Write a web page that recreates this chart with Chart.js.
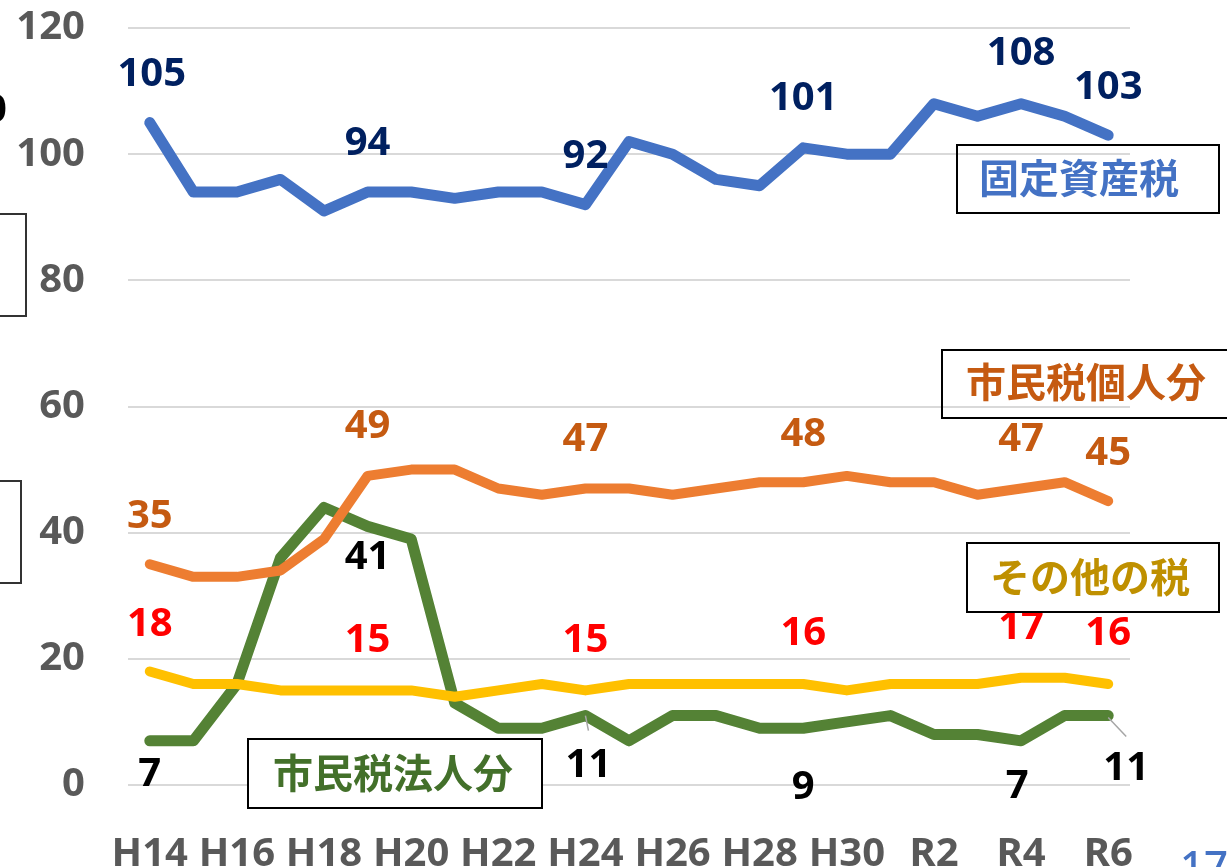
<!DOCTYPE html>
<html lang="ja">
<head>
<meta charset="utf-8">
<script src="https://cdn.jsdelivr.net/npm/chart.js@4.4.1/dist/chart.umd.min.js"></script>
<style>
  html, body { margin: 0; padding: 0; background: #fff; }
  #wrap { width: 1227px; height: 867px; position: relative; }
</style>
</head>
<body>
<div id="wrap"><canvas id="taxChart"></canvas></div>
<script>
// 年度 (H14〜R6)
const years = ['H14','H15','H16','H17','H18','H19','H20','H21','H22','H23','H24','H25',
               'H26','H27','H28','H29','H30','R1','R2','R3','R4','R5','R6'];

// 税目別の推移
const fixedAssetTax = [105, 94, 94, 96, 91, 94, 94, 93, 94, 94, 92, 102,
                       100, 96, 95, 101, 100, 100, 108, 106, 108, 106, 103];
const residentIndividual = [35, 33, 33, 34, 39, 49, 50, 50, 47, 46, 47, 47,
                            46, 47, 48, 48, 49, 48, 48, 46, 47, 48, 45];
const otherTaxes = [18, 16, 16, 15, 15, 15, 15, 14, 15, 16, 15, 16,
                    16, 16, 16, 16, 15, 16, 16, 16, 17, 17, 16];
const residentCorporate = [7, 7, 16, 36, 44, 41, 39, 13, 9, 9, 11, 7,
                           11, 11, 9, 9, 10, 11, 8, 8, 7, 11, 11];

const yTicks = [0, 20, 40, 60, 80, 100, 120];

// データラベルを付ける点
const labelIndexes = [0, 5, 10, 15, 20, 22];

const FONT = '"Noto Sans", "DejaVu Sans", sans-serif';
const JP_FONT = '"Noto Sans CJK JP", "Noto Sans", sans-serif';

// 点ごとのラベル位置 (点からのずれ)
const labelStyles = {
    fixed:  { color: '#002060', offsets: [[2,-48],[0,-48],[0,-48],[0,-49],[0,-50],[0,-48]] },
    indiv:  { color: '#C55A11', offsets: [[0,-48],[0,-49],[0,-49],[0,-48],[0,-49],[0,-48]] },
    other:  { color: '#FF0000', offsets: [[0,-47],[0,-50],[0,-50],[0,-50],[0,-50],[0,-50]] },
    corp:   { color: '#000000', offsets: [[0,34],[0,31],[3,50],[0,59],[-4,46],[18,53]],
              leaders: { 10: [0, 0, 3, 15], 22: [0, 2, 18, 21] } }
};

const dataLabelPlugin = {
    id: 'dataLabels',
    afterDatasetsDraw(chart) {
        const ctx = chart.ctx;
        chart.data.datasets.forEach((ds, i) => {
            const style = labelStyles[ds.key];
            const meta = chart.getDatasetMeta(i);
            ctx.save();
            // 引き出し線
            if (style.leaders) {
                ctx.strokeStyle = '#a6a6a6';
                ctx.lineWidth = 1.5;
                Object.keys(style.leaders).forEach(idx => {
                    const p = meta.data[idx];
                    const l = style.leaders[idx];
                    ctx.beginPath();
                    ctx.moveTo(p.x + l[0], p.y + l[1]);
                    ctx.lineTo(p.x + l[2], p.y + l[3]);
                    ctx.stroke();
                });
            }
            ctx.fillStyle = style.color;
            ctx.font = 'bold 40px ' + FONT;
            ctx.textAlign = 'center';
            ctx.textBaseline = 'middle';
            labelIndexes.forEach((idx, k) => {
                const p = meta.data[idx];
                const off = style.offsets[k];
                ctx.fillText(String(ds.data[idx]), p.x + off[0], p.y + off[1]);
            });
            ctx.restore();
        });
    }
};

// 凡例代わりのテキストボックス
const boxes = [
    { text: '固定資産税',   color: '#4472C4', x: 957, y: 145, w: 262, h: 68, tx: 1079, ty: 178, fill: false },
    { text: '市民税個人分', color: '#C55A11', x: 942, y: 350, w: 300, h: 68, tx: 1086, ty: 382, fill: false },
    { text: 'その他の税',   color: '#BF9000', x: 967, y: 543, w: 252, h: 69, tx: 1090, ty: 577, fill: false },
    { text: '市民税法人分', color: '#43702A', x: 248, y: 739, w: 294, h: 69, tx: 393,  ty: 773, fill: true }
];

const annotationPlugin = {
    id: 'boxes',
    afterDraw(chart) {
        const ctx = chart.ctx;
        ctx.save();
        boxes.forEach(b => {
            if (b.fill) {
                ctx.fillStyle = '#ffffff';
                ctx.fillRect(b.x, b.y, b.w, b.h);
            }
            ctx.strokeStyle = '#000000';
            ctx.lineWidth = 2;
            ctx.strokeRect(b.x, b.y, b.w, b.h);
            ctx.fillStyle = b.color;
            ctx.font = '600 40px ' + JP_FONT;
            ctx.textAlign = 'center';
            ctx.textBaseline = 'middle';
            ctx.fillText(b.text, b.tx, b.ty);
        });
        // 左端で切れている枠
        ctx.strokeStyle = '#333333';
        ctx.lineWidth = 2;
        ctx.strokeRect(-60, 214, 86, 102);
        ctx.strokeRect(-60, 481, 81, 102);
        ctx.fillStyle = '#000000';
        ctx.font = 'bold 40px ' + FONT;
        ctx.textAlign = 'left';
        ctx.textBaseline = 'middle';
        ctx.fillText('0', -16, 111);
        // ページ番号
        ctx.fillStyle = '#4472C4';
        ctx.font = '500 42px ' + FONT;
        ctx.textBaseline = 'alphabetic';
        ctx.fillText('17', 1180, 881);
        ctx.restore();
    }
};

const whiteBg = {
    id: 'whiteBg',
    beforeDraw(chart) {
        const ctx = chart.ctx;
        ctx.save();
        ctx.fillStyle = '#ffffff';
        ctx.fillRect(0, 0, chart.width, chart.height);
        ctx.restore();
    }
};

function lineSet(key, label, data, color, width, order) {
    return {
        key: key,
        label: label,
        data: data,
        borderColor: color,
        backgroundColor: color,
        borderWidth: width,
        pointRadius: 0,
        pointHoverRadius: 0,
        borderCapStyle: 'round',
        borderJoinStyle: 'round',
        tension: 0,
        fill: false,
        order: order
    };
}

const ctx = document.getElementById('taxChart').getContext('2d');
new Chart(ctx, {
    type: 'line',
    data: {
        labels: years,
        datasets: [
            lineSet('fixed', '固定資産税', fixedAssetTax, '#4472C4', 11, 1),
            lineSet('indiv', '市民税個人分', residentIndividual, '#ED7D31', 10, 2),
            lineSet('other', 'その他の税', otherTaxes, '#FFC000', 10, 3),
            lineSet('corp', '市民税法人分', residentCorporate, '#548235', 11, 4)
        ]
    },
    options: {
        responsive: true,
        maintainAspectRatio: false,
        animation: false,
        events: [],
        layout: {
            padding: { top: 28, right: 97, bottom: 0, left: 0 }
        },
        plugins: {
            legend: { display: false },
            tooltip: { enabled: false }
        },
        scales: {
            x: {
                offset: true,
                grid: { display: false },
                border: { display: false },
                ticks: {
                    autoSkip: false,
                    maxRotation: 0,
                    padding: 38,
                    color: '#595959',
                    font: { family: FONT, size: 40, weight: 'bold' },
                    callback: function (value, index) {
                        return index % 2 === 0 ? this.getLabelForValue(value) : '';
                    }
                },
                afterFit: (scale) => {
                    scale.height = 82;
                    scale.paddingLeft = 0;
                    scale.paddingRight = 0;
                }
            },
            y: {
                min: 0,
                max: 120,
                afterBuildTicks: (scale) => {
                    scale.ticks = yTicks.map(v => ({ value: v }));
                },
                grid: { color: '#d9d9d9', lineWidth: 2, drawTicks: false },
                border: { display: false },
                ticks: {
                    padding: 43,
                    color: '#595959',
                    font: { family: FONT, size: 40, weight: 'bold' }
                },
                afterFit: (scale) => {
                    scale.width = 128;
                    scale.paddingTop = 0;
                    scale.paddingBottom = 0;
                }
            }
        }
    },
    plugins: [whiteBg, dataLabelPlugin, annotationPlugin]
});
</script>
</body>
</html>
